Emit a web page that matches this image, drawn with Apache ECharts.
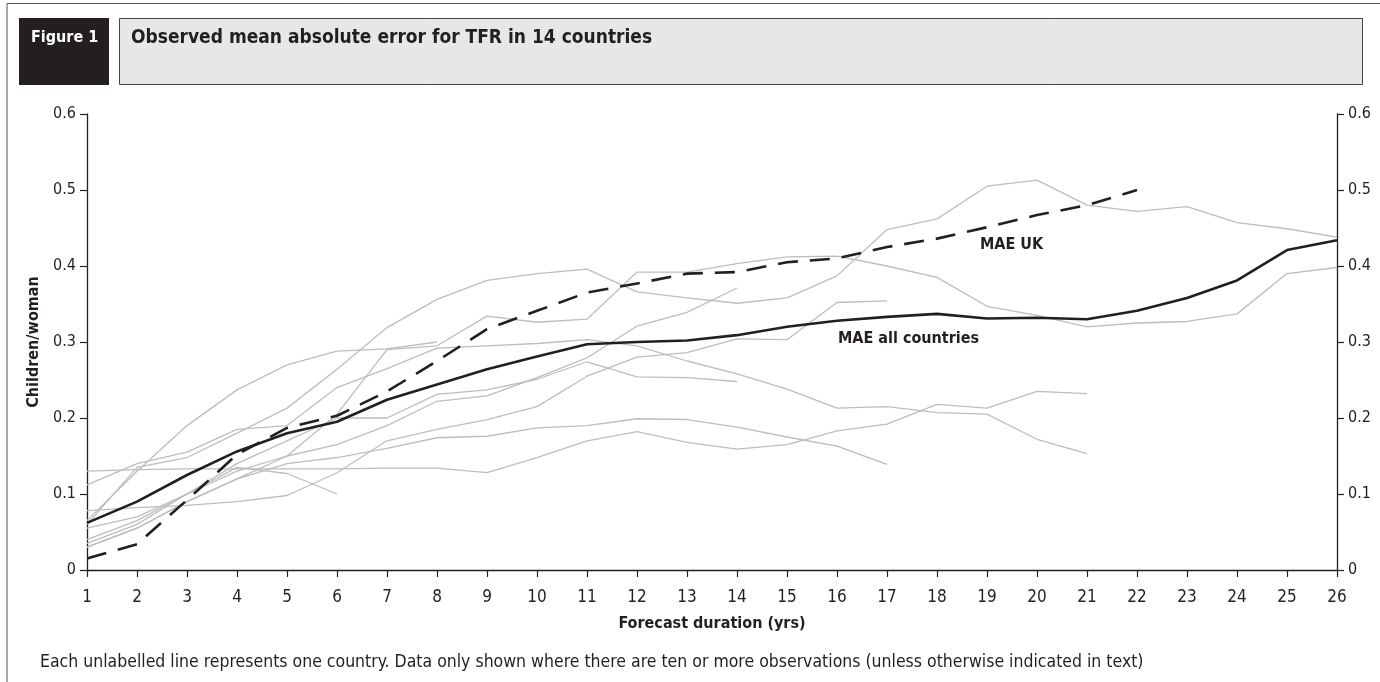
<!DOCTYPE html>
<html>
<head>
<meta charset="utf-8">
<title>Figure 1</title>
<script src="https://cdn.jsdelivr.net/npm/echarts@6/dist/echarts.min.js"></script>
<style>
  html, body { margin: 0; padding: 0; background: #fff; }
  #chart { width: 1380px; height: 682px; }
</style>
</head>
<body>
<div id="chart"></div>
<script type="text/javascript">
  // forecast duration (yrs)
  var years = ['1','2','3','4','5','6','7','8','9','10','11','12','13','14','15','16','17','18','19','20','21','22','23','24','25','26'];
  var yTicks = [0, 0.1, 0.2, 0.3, 0.4, 0.5, 0.6];

  // MAE lines
  var maeAll = [0.062, 0.090, 0.125, 0.156, 0.180, 0.195, 0.224, 0.244, 0.264, 0.281, 0.297, 0.300, 0.302, 0.309, 0.320, 0.328, 0.333, 0.337, 0.331, 0.332, 0.330, 0.341, 0.358, 0.381, 0.421, 0.434];
  var maeUK = [0.015, 0.034, 0.092, 0.152, 0.187, 0.203, 0.235, 0.275, 0.317, 0.341, 0.365, 0.377, 0.390, 0.392, 0.405, 0.410, 0.425, 0.436, 0.451, 0.467, 0.480, 0.500];

  // one unlabelled line per country
  var countryA = [0.060, 0.135, 0.148, 0.180, 0.213, 0.264, 0.319, 0.356, 0.381, 0.390, 0.396, 0.366, 0.358, 0.351, 0.358, 0.387, 0.448, 0.462, 0.505, 0.513, 0.480, 0.472, 0.478, 0.457, 0.449, 0.438];
  var countryB = [0.030, 0.055, 0.090, 0.120, 0.150, 0.205, 0.290, 0.295, 0.334, 0.326, 0.330, 0.392, 0.392, 0.403, 0.412, 0.413, 0.400, 0.385, 0.347, 0.335, 0.320, 0.325, 0.327, 0.337, 0.390, 0.398];
  var countryC = [0.130, 0.132, 0.133, 0.133, 0.133, 0.133, 0.134, 0.134, 0.128, 0.148, 0.170, 0.182, 0.168, 0.159, 0.165, 0.183, 0.192, 0.218, 0.213, 0.235, 0.232];
  var countryD = [0.112, 0.140, 0.155, 0.185, 0.190, 0.240, 0.265, 0.292, 0.295, 0.298, 0.303, 0.295, 0.275, 0.258, 0.238, 0.213, 0.215, 0.207, 0.205, 0.172, 0.153];
  var countryE = [0.065, 0.130, 0.190, 0.237, 0.270, 0.288, 0.291, 0.300];
  var countryF = [0.055, 0.070, 0.100, 0.135, 0.127, 0.100];
  var countryG = [0.078, 0.082, 0.085, 0.090, 0.098, 0.128, 0.170, 0.185, 0.198, 0.215, 0.255, 0.280, 0.286, 0.304, 0.303, 0.352, 0.354];
  var countryH = [0.030, 0.055, 0.090, 0.120, 0.140, 0.148, 0.160, 0.174, 0.176, 0.187, 0.190, 0.199, 0.198, 0.188, 0.175, 0.163, 0.139];
  var countryI = [0.035, 0.060, 0.100, 0.130, 0.150, 0.165, 0.190, 0.222, 0.229, 0.253, 0.279, 0.321, 0.339, 0.371];
  var countryJ = [0.040, 0.065, 0.100, 0.140, 0.170, 0.200, 0.200, 0.231, 0.237, 0.251, 0.274, 0.254, 0.253, 0.248];
  var countries = [countryA, countryB, countryC, countryD, countryE, countryF, countryG, countryH, countryI, countryJ];

  var font = '"DejaVu Sans Condensed", "Liberation Sans Narrow", "Liberation Sans", sans-serif';
  var myChart = echarts.init(document.getElementById('chart'), null, { renderer: 'canvas' });

  var series = [];
  for (var i = 0; i < countries.length; i++) {
    series.push({
      type: 'line',
      data: countries[i],
      symbol: 'none',
      silent: true,
      z: 2,
      lineStyle: { color: '#bdbdbd', width: 1.3 }
    });
  }
  series.push({
    type: 'line', data: maeAll, symbol: 'none', z: 5,
    lineStyle: { color: '#231f20', width: 2.6 }
  });
  series.push({
    type: 'line', data: maeUK, symbol: 'none', z: 5,
    lineStyle: { color: '#231f20', width: 2.6, type: [20, 12] }
  });

  var axisLabel = { color: '#231f20', fontSize: 16, fontFamily: font, margin: 11 };
  option = {
    animation: false,
    grid: { left: 87, right: 43, top: 114, bottom: 112 },
    xAxis: {
      type: 'category',
      boundaryGap: false,
      data: years,
      axisLine: { lineStyle: { color: '#231f20', width: 1.3 } },
      axisTick: { show: true, length: 7, interval: 0, lineStyle: { color: '#231f20', width: 1.2 } },
      axisLabel: { color: '#231f20', fontSize: 17, fontFamily: font, margin: 19, interval: 0 },
      splitLine: { show: false },
      name: 'Forecast duration (yrs)',
      nameLocation: 'middle',
      nameGap: 46,
      nameTextStyle: { color: '#231f20', fontSize: 16, fontWeight: 'bold', fontFamily: font }
    },
    yAxis: [{
      type: 'value',
      min: yTicks[0], max: yTicks[yTicks.length - 1], interval: 0.1,
      position: 'left',
      axisLine: { show: true, lineStyle: { color: '#231f20', width: 1.3 } },
      axisTick: { show: true, length: 7, lineStyle: { color: '#231f20', width: 1.2 } },
      axisLabel: axisLabel,
      splitLine: { show: false },
      name: 'Children/woman',
      nameLocation: 'middle',
      nameGap: 41,
      nameRotate: 90,
      nameTextStyle: { color: '#231f20', fontSize: 16, fontWeight: 'bold', fontFamily: font }
    }, {
      type: 'value',
      min: yTicks[0], max: yTicks[yTicks.length - 1], interval: 0.1,
      position: 'right',
      axisLine: { show: true, lineStyle: { color: '#231f20', width: 1.3 } },
      axisTick: { show: true, length: 7, lineStyle: { color: '#231f20', width: 1.2 } },
      axisLabel: axisLabel,
      splitLine: { show: false }
    }],
    graphic: [
      // outer frame
      { type: 'line', shape: { x1: 7, y1: 3.5, x2: 1380, y2: 3.5 }, style: { stroke: '#555', lineWidth: 1 } },
      { type: 'line', shape: { x1: 7, y1: 3.5, x2: 7, y2: 682 }, style: { stroke: '#555', lineWidth: 1 } },
      // header
      { type: 'rect', shape: { x: 19, y: 18, width: 90, height: 67 }, style: { fill: '#231f20' } },
      { type: 'text', left: 31, top: 30, style: { text: 'Figure 1', fill: '#fff', font: 'bold 16px ' + font } },
      { type: 'rect', shape: { x: 119.5, y: 18.5, width: 1243, height: 66 }, style: { fill: '#e6e7e8', stroke: '#444', lineWidth: 1 } },
      { type: 'text', left: 131, top: 29, style: { text: 'Observed mean absolute error for TFR in 14 countries', fill: '#231f20', font: 'bold 19px ' + font } },
      // line labels
      { type: 'text', left: 980, top: 237, z: 10, style: { text: 'MAE UK', fill: '#231f20', font: 'bold 16px ' + font } },
      { type: 'text', left: 838, top: 331, z: 10, style: { text: 'MAE all countries', fill: '#231f20', font: 'bold 16px ' + font } },
      // note
      { type: 'text', left: 40, top: 653, style: { text: 'Each unlabelled line represents one country. Data only shown where there are ten or more observations (unless otherwise indicated in text)', fill: '#231f20', font: '17.5px ' + font } }
    ],
    series: series
  };
  myChart.setOption(option);
</script>
</body>
</html>
